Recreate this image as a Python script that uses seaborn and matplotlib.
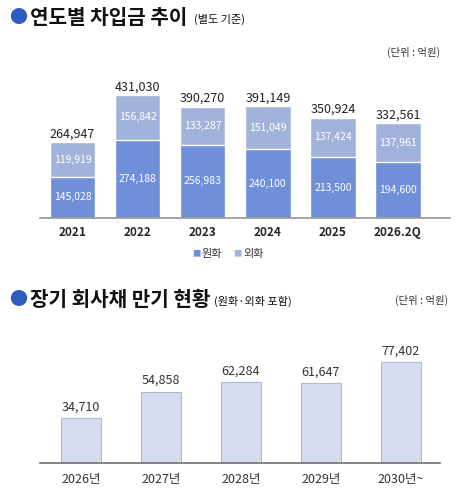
import matplotlib
matplotlib.use("Agg")
import matplotlib.pyplot as plt
import seaborn as sns
import pandas as pd

sns.set_theme(style="white")
plt.rcParams['font.family'] = ['Noto Sans CJK KR', 'DejaVu Sans']

years = ["2021", "2022", "2023", "2024", "2025", "2026.2Q"]
won = [145028, 274188, 256983, 240100, 213500, 194600]
fx = [119919, 156842, 133287, 151049, 137424, 137961]
totals = [264947, 431030, 390270, 391149, 350924, 332561]

mat_years = ["2026년", "2027년", "2028년", "2029년", "2030년~"]
mat_vals = [34710, 54858, 62284, 61647, 77402]

c_won = "#6F8FD8"
c_fx = "#A2B3DB"

fig = plt.figure(figsize=(4.63, 5.0), dpi=100)

# top chart
ax1 = fig.add_axes([40/463, 1-218/500, 410/463, 137/500])
df = pd.DataFrame({"year": years, "won": won, "total": [w + f for w, f in zip(won, fx)], "fx": fx})
sns.barplot(data=df, x="year", y="total", color=c_fx, width=0.7, ax=ax1, saturation=1)
sns.barplot(data=df, x="year", y="won", color=c_won, width=0.7, ax=ax1, saturation=1)
ax1.set_ylim(0, 480000)
ax1.set_xlim(-0.5, 5.8)
ax1.set_yticks([])
ax1.set_xlabel("")
ax1.set_ylabel("")
for s in ["top", "right", "left"]:
    ax1.spines[s].set_visible(False)
ax1.spines["bottom"].set_color("#999999")
ax1.tick_params(axis="x", length=0, pad=6)
for lbl in ax1.get_xticklabels():
    lbl.set_fontweight("bold")
    lbl.set_fontsize(8.5)
for i in range(len(years)):
    ax1.text(i, won[i] / 2, f"{won[i]:,}", ha="center", va="center", color="white", fontsize=7.5)
    ax1.text(i, won[i] + fx[i] / 2, f"{fx[i]:,}", ha="center", va="center", color="white", fontsize=7.5)
    ax1.text(i, won[i] + fx[i] + 6000, f"{totals[i]:,}", ha="center", va="bottom", color="#222222", fontsize=9)

# legend
fig.text(192/463, 1-254/500, "■", color=c_won, fontsize=6, va="center")
fig.text(202/463, 1-254/500, "원화", color="#333333", fontsize=8, va="center")
fig.text(233/463, 1-254/500, "■", color=c_fx, fontsize=6, va="center")
fig.text(243/463, 1-254/500, "외화", color="#333333", fontsize=8, va="center")

# titles
fig.text(9/463, 1-18/500, "●", color="#2D5BC0", fontsize=13, va="center")
fig.text(30/463, 1-18/500, "연도별 차입금 추이", color="#111111", fontsize=14.5, fontweight="bold", va="center")
fig.text(194/463, 1-19/500, "(별도 기준)", color="#111111", fontsize=8, va="center")
fig.text(440/463, 1-52/500, "(단위 : 억원)", color="#333333", fontsize=7.5, ha="right", va="center")

fig.text(9/463, 1-300/500, "●", color="#2D5BC0", fontsize=13, va="center")
fig.text(30/463, 1-300/500, "장기 회사채 만기 현황", color="#111111", fontsize=14.5, fontweight="bold", va="center")
fig.text(214/463, 1-301/500, "(원화·외화 포함)", color="#111111", fontsize=8, va="center")
fig.text(448/463, 1-300/500, "(단위 : 억원)", color="#333333", fontsize=7.5, ha="right", va="center")

# bottom chart
ax2 = fig.add_axes([40/463, 1-463/500, 400/463, 130/500])
df2 = pd.DataFrame({"year": mat_years, "val": mat_vals})
sns.barplot(data=df2, x="year", y="val", color="#D6DCEF", width=0.5, ax=ax2, saturation=1,
            edgecolor="#AEB8D9", linewidth=0.8)
ax2.set_ylim(0, 100000)
ax2.set_xlim(-0.51, 4.49)
ax2.set_yticks([])
ax2.set_xlabel("")
ax2.set_ylabel("")
for s in ["top", "right", "left"]:
    ax2.spines[s].set_visible(False)
ax2.spines["bottom"].set_color("#777777")
ax2.tick_params(axis="x", length=0, pad=7, labelsize=9, labelcolor="#333333")
for i, v in enumerate(mat_vals):
    ax2.text(i, v + 3500, f"{v:,}", ha="center", va="bottom", color="#333333", fontsize=9)

fig.savefig("out.png", dpi=100, facecolor="white")
